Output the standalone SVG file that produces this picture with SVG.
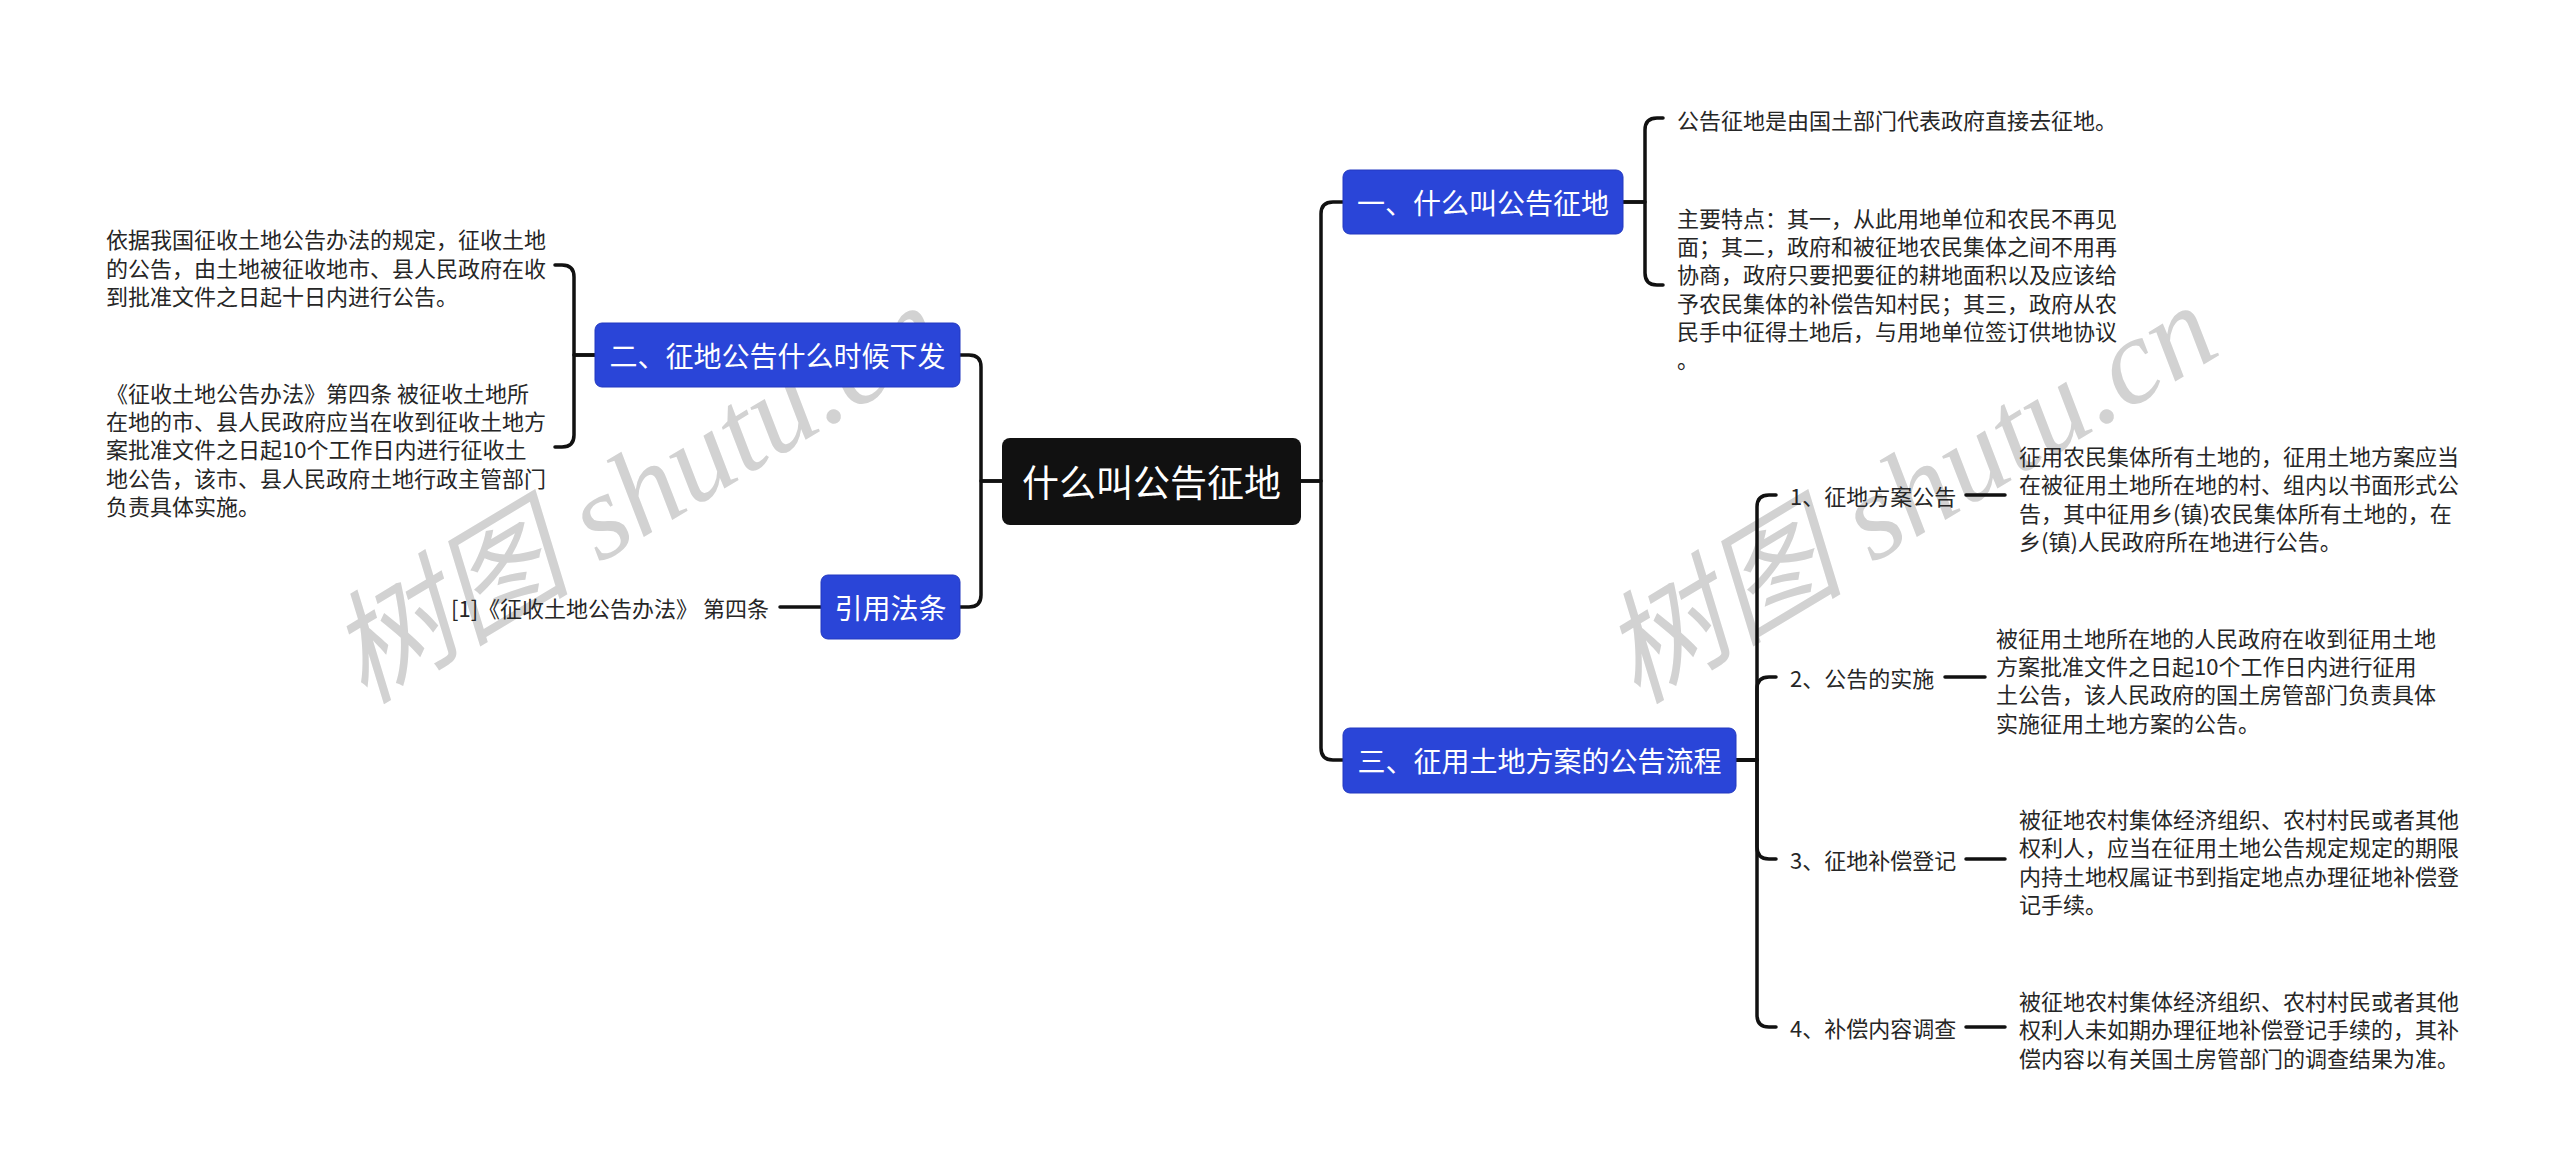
<svg xmlns="http://www.w3.org/2000/svg" width="2560" height="1173" viewBox="0 0 2560 1173">
<style>
.wm{font-family:"Liberation Serif","Noto Sans CJK SC",serif;font-style:italic;font-size:122px;fill:#d2d2d2}
.t{font-family:"Noto Sans CJK SC","Noto Sans",sans-serif;font-size:22px;fill:#262626;dominant-baseline:central}
.nb{fill:#2a45d8;stroke:#2238c0;stroke-width:1}
.nt{font-family:"Noto Sans CJK SC","Noto Sans",sans-serif;font-size:28px;fill:#ffffff;dominant-baseline:central;text-anchor:middle}
.ct{font-family:"Noto Sans CJK SC","Noto Sans",sans-serif;font-size:37px;fill:#ffffff;dominant-baseline:central;text-anchor:middle}
.c{fill:none;stroke:#111;stroke-width:3.5;stroke-linecap:round;stroke-linejoin:round}
</style>
<rect width="2560" height="1173" fill="#ffffff"/>
<g id="watermark">
<text class="wm" transform="translate(364,705) rotate(-31)">树图 shutu.cn</text>
<text class="wm" transform="translate(1637,705) rotate(-31)">树图 shutu.cn</text>
</g>
<g id="connectors">
<path class="c" d="M1002 481 H981 V367 Q981 355 969 355 H960"/>
<path class="c" d="M1002 481 H981 V595 Q981 607 969 607 H960"/>
<path class="c" d="M595 355 H574 V277 Q574 265 562 265 H555"/>
<path class="c" d="M595 355 H574 V435 Q574 447 562 447 H555"/>
<path class="c" d="M821 607 H780"/>
<path class="c" d="M1301 481 H1321 V214 Q1321 202 1333 202 H1343"/>
<path class="c" d="M1301 481 H1321 V748 Q1321 760 1333 760 H1343"/>
<path class="c" d="M1623 202 H1645 V130 Q1645 118 1657 118 H1663"/>
<path class="c" d="M1623 202 H1645 V273 Q1645 285 1657 285 H1663"/>
<path class="c" d="M1736 760 H1757 V507 Q1757 495 1769 495 H1776"/>
<path class="c" d="M1736 760 H1757 V689 Q1757 677 1769 677 H1776"/>
<path class="c" d="M1736 760 H1757 V847 Q1757 859 1769 859 H1776"/>
<path class="c" d="M1736 760 H1757 V1015 Q1757 1027 1769 1027 H1776"/>
<path class="c" d="M1966 495 H2005"/>
<path class="c" d="M1945 677 H1985"/>
<path class="c" d="M1966 859 H2005"/>
<path class="c" d="M1966 1027 H2005"/>
</g>
<g id="center">
<rect x="1002" y="438" width="299" height="87" rx="8" fill="#111111"/>
<text class="ct" x="1151.5" y="481">什么叫公告征地</text>
</g>
<g id="node-2">
<rect class="nb" x="595" y="323" width="365" height="64" rx="7"/>
<text class="nt" x="777.5" y="355">二、征地公告什么时候下发</text>
</g>
<g id="node-2-text-1">
<text class="t" x="106" y="238.3">依据我国征收土地公告办法的规定，征收土地</text>
<text class="t" x="106" y="266.7">的公告，由土地被征收地市、县人民政府在收</text>
<text class="t" x="106" y="295">到批准文件之日起十日内进行公告。</text>
</g>
<g id="node-2-text-2">
<text class="t" x="106" y="391.7">《征收土地公告办法》第四条 被征收土地所</text>
<text class="t" x="106" y="420">在地的市、县人民政府应当在收到征收土地方</text>
<text class="t" x="106" y="448.3">案批准文件之日起10个工作日内进行征收土</text>
<text class="t" x="106" y="476.7">地公告，该市、县人民政府土地行政主管部门</text>
<text class="t" x="106" y="505">负责具体实施。</text>
</g>
<g id="node-law">
<rect class="nb" x="821" y="575" width="139" height="64" rx="7"/>
<text class="nt" x="890.5" y="607">引用法条</text>
</g>
<g id="node-law-text">
<text class="t" x="769" y="607" text-anchor="end">[1]《征收土地公告办法》 第四条</text>
</g>
<g id="node-1">
<rect class="nb" x="1343" y="170" width="280" height="64" rx="7"/>
<text class="nt" x="1483" y="202">一、什么叫公告征地</text>
</g>
<g id="node-1-text-1">
<text class="t" x="1677" y="119">公告征地是由国土部门代表政府直接去征地。</text>
</g>
<g id="node-1-text-2">
<text class="t" x="1677" y="216.7">主要特点：其一，从此用地单位和农民不再见</text>
<text class="t" x="1677" y="245">面；其二，政府和被征地农民集体之间不用再</text>
<text class="t" x="1677" y="273.3">协商，政府只要把要征的耕地面积以及应该给</text>
<text class="t" x="1677" y="301.7">予农民集体的补偿告知村民；其三，政府从农</text>
<text class="t" x="1677" y="330">民手中征得土地后，与用地单位签订供地协议</text>
<text class="t" x="1677" y="358.3">。</text>
</g>
<g id="node-3">
<rect class="nb" x="1343" y="728" width="393" height="65" rx="7"/>
<text class="nt" x="1539.5" y="760">三、征用土地方案的公告流程</text>
</g>
<g id="step-1">
<text class="t" x="1790" y="495">1、征地方案公告</text>
</g>
<g id="step-1-text">
<text class="t" x="2019" y="455">征用农民集体所有土地的，征用土地方案应当</text>
<text class="t" x="2019" y="483.3">在被征用土地所在地的村、组内以书面形式公</text>
<text class="t" x="2019" y="511.7">告，其中征用乡(镇)农民集体所有土地的，在</text>
<text class="t" x="2019" y="540">乡(镇)人民政府所在地进行公告。</text>
</g>
<g id="step-2">
<text class="t" x="1790" y="677">2、公告的实施</text>
</g>
<g id="step-2-text">
<text class="t" x="1996" y="636.7">被征用土地所在地的人民政府在收到征用土地</text>
<text class="t" x="1996" y="665">方案批准文件之日起10个工作日内进行征用</text>
<text class="t" x="1996" y="693.3">土公告，该人民政府的国土房管部门负责具体</text>
<text class="t" x="1996" y="721.7">实施征用土地方案的公告。</text>
</g>
<g id="step-3">
<text class="t" x="1790" y="859">3、征地补偿登记</text>
</g>
<g id="step-3-text">
<text class="t" x="2019" y="818">被征地农村集体经济组织、农村村民或者其他</text>
<text class="t" x="2019" y="846.3">权利人，应当在征用土地公告规定规定的期限</text>
<text class="t" x="2019" y="874.7">内持土地权属证书到指定地点办理征地补偿登</text>
<text class="t" x="2019" y="903">记手续。</text>
</g>
<g id="step-4">
<text class="t" x="1790" y="1027">4、补偿内容调查</text>
</g>
<g id="step-4-text">
<text class="t" x="2019" y="1000">被征地农村集体经济组织、农村村民或者其他</text>
<text class="t" x="2019" y="1028.3">权利人未如期办理征地补偿登记手续的，其补</text>
<text class="t" x="2019" y="1056.7">偿内容以有关国土房管部门的调查结果为准。</text>
</g>
</svg>
